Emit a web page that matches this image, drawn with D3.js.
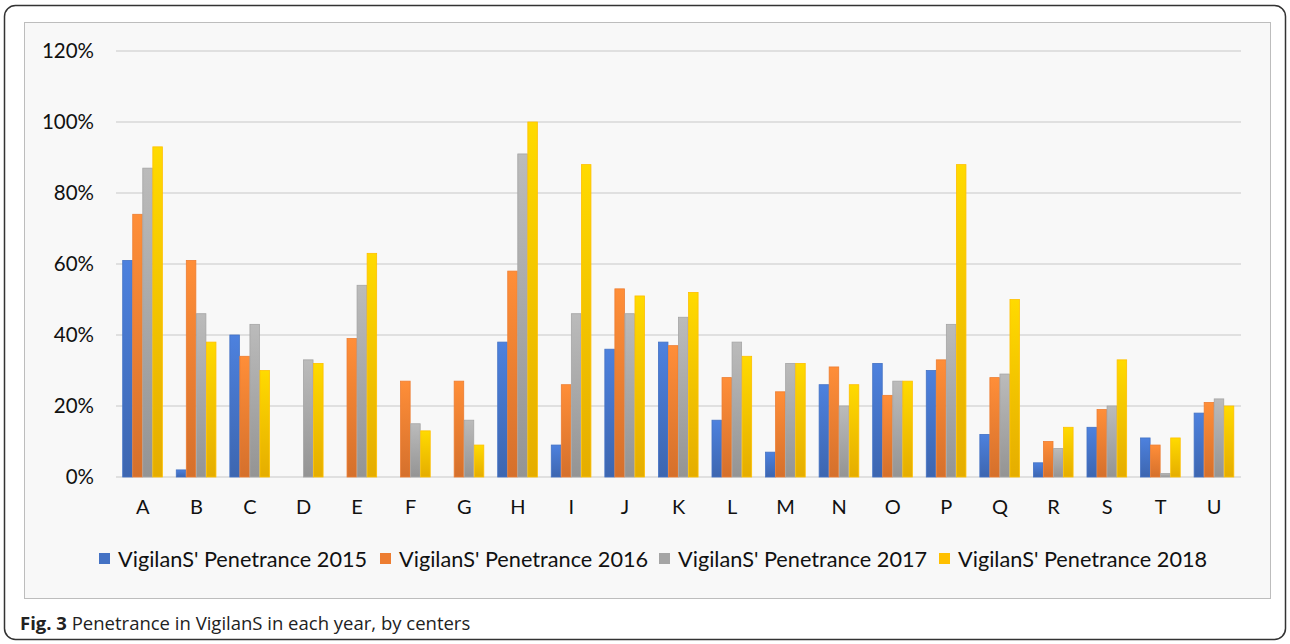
<!DOCTYPE html>
<html>
<head>
<meta charset="utf-8">
<script src="https://cdn.jsdelivr.net/npm/d3@7"></script>
<style>
  body { margin: 0; background: #fff; }
  svg { display: block; }
</style>
</head>
<body>
<svg width="1290" height="644"></svg>
<script>
// центры
const centers = ["A","B","C","D","E","F","G","H","I","J","K","L","M","N","O","P","Q","R","S","T","U"];

// значения по годам, %
const pen2015 = [61, 2, 40, 0, 0, 0, 0, 38, 9, 36, 38, 16, 7, 26, 32, 30, 12, 4, 14, 11, 18];
const pen2016 = [74, 61, 34, 0, 39, 27, 27, 58, 26, 53, 37, 28, 24, 31, 23, 33, 28, 10, 19, 9, 21];
const pen2017 = [87, 46, 43, 33, 54, 15, 16, 91, 46, 46, 45, 38, 32, 20, 27, 43, 29, 8, 20, 1, 22];
const pen2018 = [93, 38, 30, 32, 63, 13, 9, 100, 88, 51, 52, 34, 32, 26, 27, 88, 50, 14, 33, 11, 20];

const seriesNames = ["VigilanS' Penetrance 2015", "VigilanS' Penetrance 2016",
                     "VigilanS' Penetrance 2017", "VigilanS' Penetrance 2018"];
const yTicks = [0, 20, 40, 60, 80, 100, 120];

const colors = ["#4472C4", "#ED7D31", "#A5A5A5", "#FFC000"];
const allSeries = [pen2015, pen2016, pen2017, pen2018];

const svg = d3.select("svg");
const font = "Lato, 'Open Sans', sans-serif";

// внешняя рамка
svg.append("rect")
    .attr("x", 4.5).attr("y", 5.5)
    .attr("width", 1281).attr("height", 634)
    .attr("rx", 11)
    .attr("fill", "#fff")
    .attr("stroke", "#333")
    .attr("stroke-width", 1.5);

// фон диаграммы
svg.append("rect")
    .attr("x", 24.5).attr("y", 22.5)
    .attr("width", 1246).attr("height", 576)
    .attr("fill", "#f8f8f8")
    .attr("stroke", "#bdbdbd")
    .attr("stroke-width", 1);

// градиенты для столбиков
const defs = svg.append("defs");
colors.forEach((c, i) => {
    const g = defs.append("linearGradient")
        .attr("id", "grad" + i)
        .attr("x1", 0).attr("y1", 0).attr("x2", 0).attr("y2", 1);
    g.append("stop").attr("offset", "0%").attr("stop-color", d3.color(c).brighter(0.35));
    g.append("stop").attr("offset", "100%").attr("stop-color", d3.color(c).darker(0.3));
});

const x = d3.scaleBand()
    .domain(centers)
    .range([116, 1241]);

const xInner = d3.scaleBand()
    .domain([0, 1, 2, 3])
    .range([0, x.bandwidth() * 0.75]);

const y = d3.scaleLinear()
    .domain([0, 120])
    .range([477, 51]);

// сетка
svg.append("g")
    .selectAll("line")
    .data(yTicks)
    .join("line")
    .attr("x1", 116).attr("x2", 1241)
    .attr("y1", d => y(d)).attr("y2", d => y(d))
    .attr("stroke", "#d9d9d9")
    .attr("stroke-width", 1.5);

// подписи оси Y
svg.append("g")
    .selectAll("text")
    .data(yTicks)
    .join("text")
    .attr("x", 94)
    .attr("y", d => y(d) + 7)
    .attr("text-anchor", "end")
    .attr("font-family", font)
    .attr("font-size", 20.5)
    .attr("fill", "#111")
    .text(d => d + "%");

// столбики
const offset = x.bandwidth() * 0.125;
allSeries.forEach((vals, i) => {
    svg.append("g")
        .selectAll("rect")
        .data(vals)
        .join("rect")
        .attr("x", (d, j) => x(centers[j]) + offset + xInner(i))
        .attr("y", d => y(d))
        .attr("width", xInner.bandwidth() - 0.5)
        .attr("height", d => y(0) - y(d))
        .attr("fill", "url(#grad" + i + ")")
        .attr("stroke", colors[i])
        .attr("stroke-width", d => d > 0 ? 0.8 : 0);
});

// подписи оси X
svg.append("g")
    .selectAll("text")
    .data(centers)
    .join("text")
    .attr("x", d => x(d) + x.bandwidth() / 2)
    .attr("y", 514)
    .attr("text-anchor", "middle")
    .attr("font-family", font)
    .attr("font-size", 20)
    .attr("fill", "#111")
    .text(d => d);

// легенда
const legendX = [99, 380, 659, 939];
const legend = svg.append("g");
seriesNames.forEach((name, i) => {
    legend.append("rect")
        .attr("x", legendX[i]).attr("y", 553)
        .attr("width", 11).attr("height", 11)
        .attr("fill", colors[i]);
    legend.append("text")
        .attr("x", legendX[i] + 19)
        .attr("y", 567)
        .attr("font-family", font)
        .attr("font-size", 21.7)
        .attr("fill", "#111")
        .text(name);
});

// подпись рисунка
const cap = svg.append("text")
    .attr("x", 20)
    .attr("y", 630)
    .attr("font-family", "'Open Sans', sans-serif")
    .attr("font-size", 18.5)
    .attr("fill", "#222");
cap.append("tspan").attr("font-weight", "bold").text("Fig. 3");
cap.append("tspan").text(" Penetrance in VigilanS in each year, by centers");
</script>
</body>
</html>
